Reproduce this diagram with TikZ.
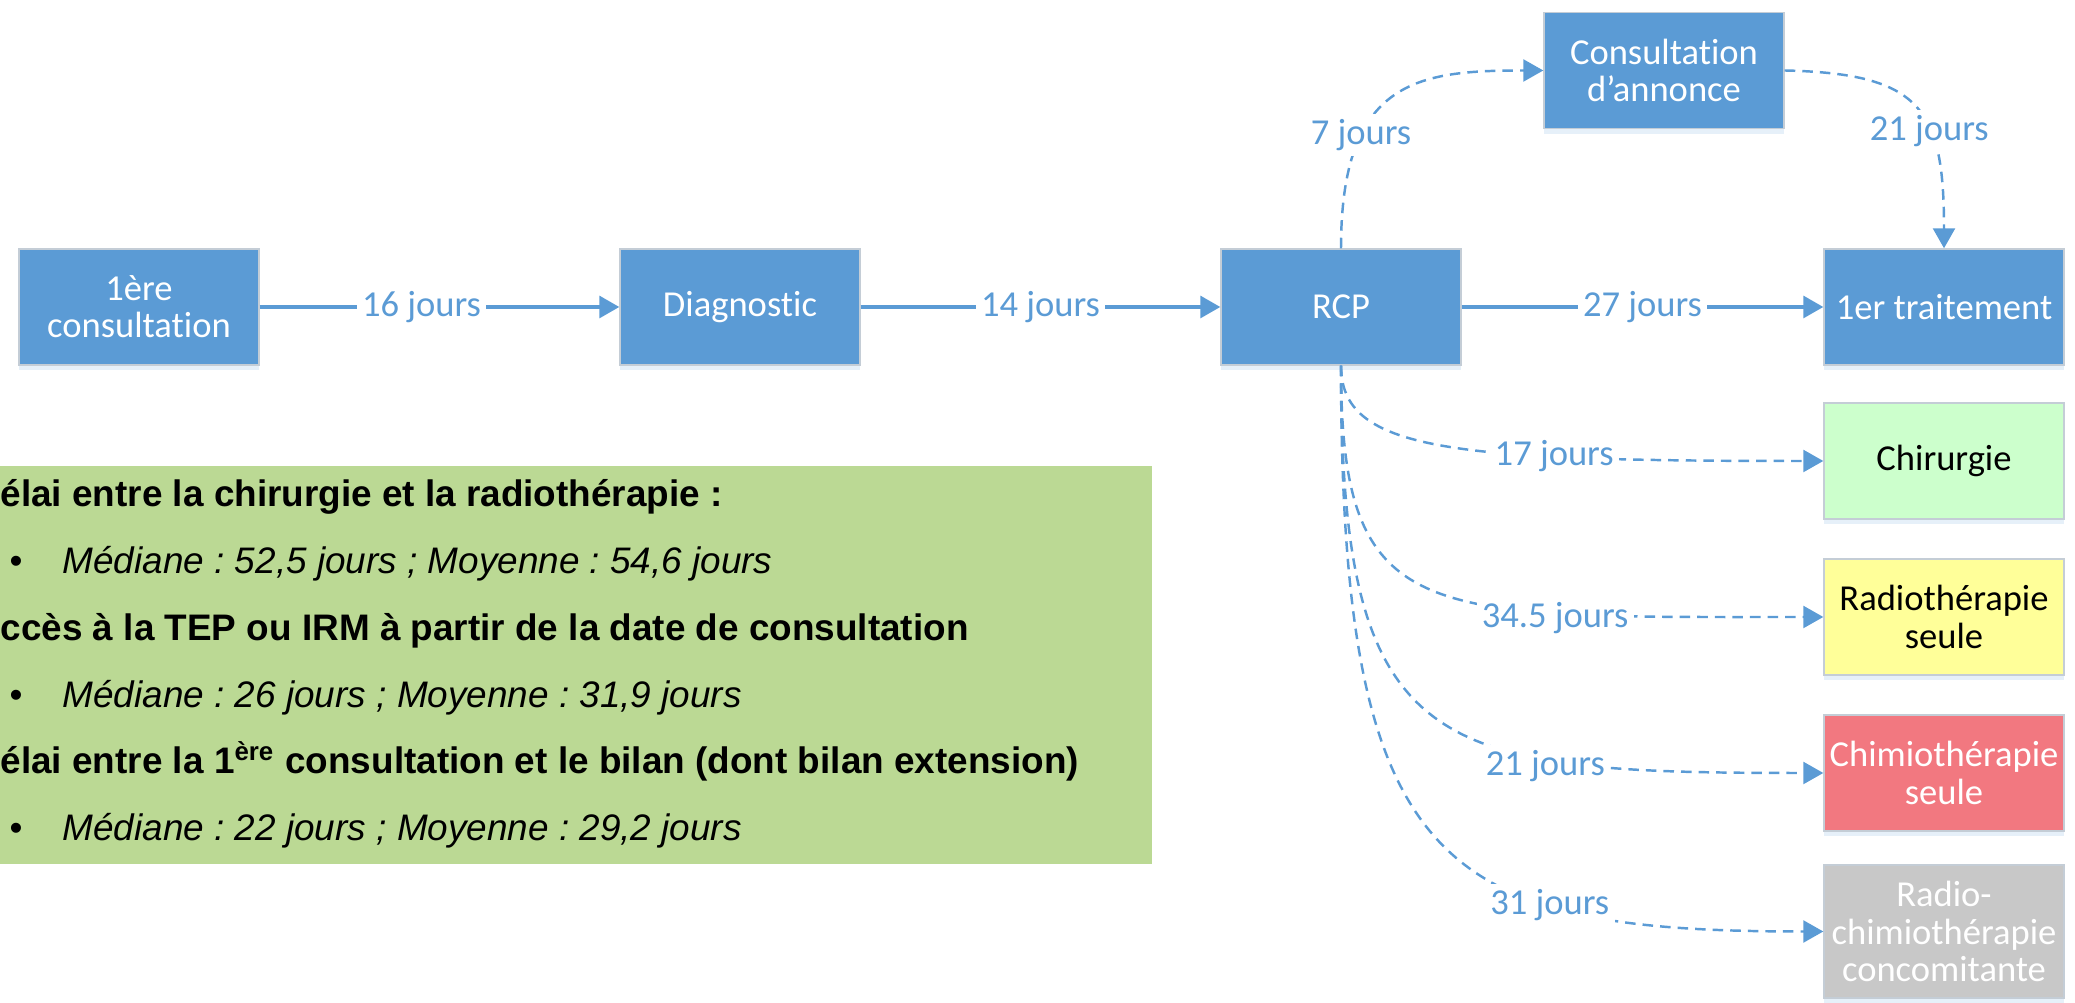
\documentclass[tikz,border=0pt]{standalone}
\usepackage{fontspec}
\setmainfont{Carlito}[Ligatures=NoCommon]
\newfontfamily\panelfont{Liberation Sans}
\usetikzlibrary{arrows.meta,shadows}
\definecolor{flowblue}{HTML}{5B9BD5}
\definecolor{boxrim}{HTML}{C4CDD6}
\definecolor{chirgreen}{HTML}{CCFFCC}
\definecolor{radioyellow}{HTML}{FFFF99}
\definecolor{chimiored}{HTML}{F27880}
\definecolor{concgray}{HTML}{C8C8C8}
\definecolor{panelgreen}{HTML}{BBD994}
\frenchspacing
\begin{document}
\begin{tikzpicture}[x=1cm,y=-1cm,>={Triangle[length=0.2cm,width=0.22cm]},
  box/.style={draw=boxrim,line width=0.4pt,fill=flowblue,text=white,inner sep=1pt,minimum width=2.4cm,minimum height=1.16cm,align=center,font=\fontsize{10.4}{10.6}\selectfont,drop shadow={shadow xshift=0pt,shadow yshift=-1.5pt,opacity=0.3,fill=flowblue!50}},
  lbl/.style={fill=white,text=flowblue,inner sep=1.5pt,font=\fontsize{10.4}{10.6}\selectfont},
  flow/.style={->,draw=flowblue,line width=0.9pt},
  dflow/.style={flow,line width=0.7pt,dash pattern=on 3pt off 2pt},
  panel/.style={anchor=base west,inner sep=0pt,font=\panelfont\fontsize{10.5}{12}\selectfont}]
\useasboundingbox (0,0) rectangle (20.75,10.03);
\fill[panelgreen] (0,4.66) rectangle (11.52,8.64);
\node[panel] (t1) at (0,5.07) {\bfseries élai entre la chirurgie et la radiothérapie :};
\node[panel] (t2) at (0.62,5.74) {\itshape Médiane : 52,5 jours ; Moyenne : 54,6 jours};
\node[panel] (t3) at (0,6.41) {\bfseries ccès à la TEP ou IRM à partir de la date de consultation};
\node[panel] (t4) at (0.62,7.08) {\itshape Médiane : 26 jours ; Moyenne : 31,9 jours};
\node[panel] (t5) at (0,7.74) {\bfseries élai entre la 1\textsuperscript{ère} consultation et le bilan (dont bilan extension)};
\node[panel] (t6) at (0.62,8.41) {\itshape Médiane : 22 jours ; Moyenne : 29,2 jours};
\foreach \N in {t2,t4,t6}{\node[panel] at (0.09,0|-\N.base) {•};}
\node[box] (cons1) at (1.39,3.07) {1ère\\consultation};  \node[box] (diag) at (7.40,3.07) {Diagnostic};
\node[box] (rcp) at (13.41,3.07) {RCP};  \node[box] (trait) at (19.44,3.07) {1er traitement};
\node[box] (annonce) at (16.64,0.705) {Consultation\\d’annonce};
\node[box,fill=chirgreen,text=black] (chir) at (19.44,4.61) {Chirurgie};
\node[box,fill=radioyellow,text=black] (radio) at (19.44,6.17) {Radiothérapie\\seule};
\node[box,fill=chimiored] (chimio) at (19.44,7.73) {Chimiothérapie\\seule};
\node[box,fill=concgray,minimum height=1.33cm] (conc) at (19.44,9.315) {Radio-\\chimiothérapie\\concomitante};
\foreach \A/\B/\days/\p in {cons1/diag/16/0.45,diag/rcp/14/0.5,rcp/trait/27/0.5}{\draw[flow] (\A) -- node[lbl,pos=\p]{\days{} jours} (\B);}
\draw[dflow] (rcp.north) .. controls +(0,-1.69) and +(-1.25,0) .. node[lbl,pos=0.3]{7 jours} (annonce.west);
\draw[dflow] (annonce.east) .. controls +(1.37,0.03) and +(0,-1.39) .. node[lbl,pos=0.62]{21 jours} (trait.north);
\foreach \B/\c/\e/\days/\p/\s in {chir/0.85/3.74/17/0.7/0pt,radio/2.6/4.04/34.5/0.72/-1.5pt,chimio/3.9/3.94/21/0.7/-2pt,conc/5.05/3.84/31/0.7/0pt}
  {\draw[dflow] (rcp.south) .. controls +(0,\c) and +(-\e,0) .. node[lbl,pos=\p,yshift=\s]{\days{} jours} (\B.west);}
\end{tikzpicture}
\end{document}
